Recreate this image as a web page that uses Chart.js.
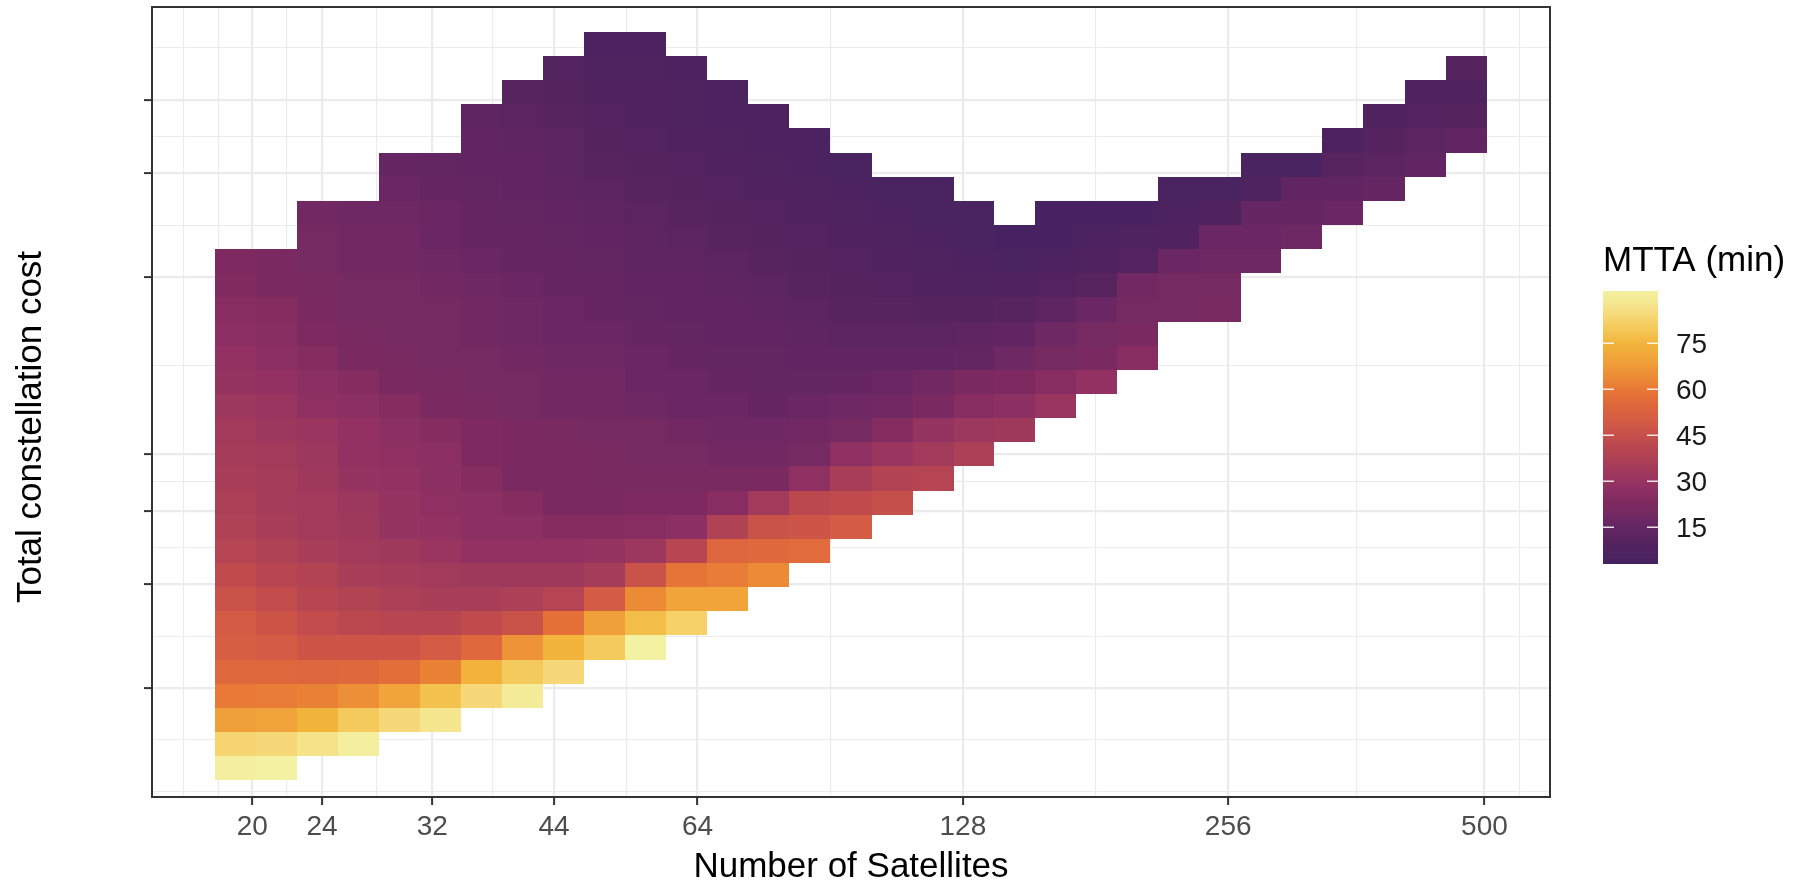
<!DOCTYPE html>
<html>
<head>
<meta charset="utf-8">
<script src="https://cdn.jsdelivr.net/npm/chart.js@4.4.1/dist/chart.umd.min.js"></script>
<style>
  html, body { margin: 0; padding: 0; background: #ffffff; }
  #wrap { width: 1807px; height: 882px; position: relative; }
</style>
</head>
<body>
<div id="wrap"><canvas id="chart"></canvas></div>
<script>
// Constellation sizes (column centres, log-spaced) and cost levels (rows, bottom = 1)
const satellites = [19.16, 21.32, 23.74, 26.42, 29.41, 32.73, 36.44, 40.56, 45.14, 50.25,
  55.93, 62.26, 69.29, 77.13, 85.85, 95.56, 106.4, 118.4, 131.8, 146.6,
  163.2, 181.7, 202.2, 225.1, 250.6, 278.9, 310.4, 345.5, 384.6, 428.1, 476.5];
const costLevels = [1, 2, 3, 4, 5, 6, 7, 8, 9, 10, 11, 12, 13, 14, 15, 16,
  17, 18, 19, 20, 21, 22, 23, 24, 25, 26, 27, 28, 29, 30, 31];

// Axis breaks
const satelliteTicks = [20, 24, 32, 44, 64, 128, 256, 500];
const satelliteMinorTicks = [16.7, 18.3, 21.9, 27.7, 37.5, 53.1, 90.5, 181, 357.8, 547.7];
const costTicks = [4.31, 8.64, 11.65, 14.01, 21.35, 25.65, 28.67];
const costMinorTicks = [0.03, 2.18, 6.45, 10.13, 12.86, 17.66, 23.46, 27.18, 30.83];
const mttaTicks = [15, 30, 45, 60, 75];

// Mean time to access (minutes); one row per cost level, top level (31) first.
const _ = null;
const mtta = [
  [_,_,_,_,_,_,_,_,_,6,   6,_,_,_,_,_,_,_,_,_,   _,_,_,_,_,_,_,_,_,_,_],
  [_,_,_,_,_,_,_,_,9,7,   7,6,_,_,_,_,_,_,_,_,   _,_,_,_,_,_,_,_,_,_,10],
  [_,_,_,_,_,_,_,11,10,8, 8,7,6,_,_,_,_,_,_,_,   _,_,_,_,_,_,_,_,_,8,8],
  [_,_,_,_,_,_,13,12,11,9, 8,7,6,6,_,_,_,_,_,_,  _,_,_,_,_,_,_,_,8,9,10],
  [_,_,_,_,_,_,14,13,12,10, 9,8,7,6,6,_,_,_,_,_, _,_,_,_,_,_,_,6,10,12,14],
  [_,_,_,_,16,15,14,14,12,11, 10,9,8,7,6,5,_,_,_,_, _,_,_,_,_,5,5,11,12,14,_],
  [_,_,_,_,17,16,15,14,13,12, 11,10,9,8,7,6,5,5,_,_, _,_,_,5,5,7,14,14,16,_,_],
  [_,_,19,18,18,17,16,15,14,13, 12,11,10,9,8,7,6,5,5,_, 4,4,4,6,8,16,16,17,_,_,_],
  [_,_,20,19,19,17,16,16,15,14, 13,12,11,10,9,8,7,6,5,3, 4,6,7,8,17,17,18,_,_,_,_],
  [23,22,20,19,19,18,17,16,16,15, 13,13,12,11,10,9,8,7,6,5, 6,8,9,17,18,18,_,_,_,_,_],
  [24,22,21,20,20,19,18,17,16,16, 14,14,13,12,11,10,9,8,7,8, 9,11,19,20,20,_,_,_,_,_,_],
  [26,25,22,20,20,20,19,18,17,16, 15,14,14,13,12,11,11,10,10,11, 13,17,20,20,21,_,_,_,_,_,_],
  [27,26,23,21,20,20,19,18,17,17, 16,15,14,14,13,12,12,12,13,14, 18,20,22,_,_,_,_,_,_,_,_],
  [29,27,25,22,21,20,20,19,18,18, 17,16,15,15,14,14,14,14,15,18, 20,22,26,_,_,_,_,_,_,_,_],
  [30,29,27,25,22,21,20,20,19,19, 17,17,16,15,15,16,17,19,22,23, 26,29,_,_,_,_,_,_,_,_,_],
  [32,31,28,27,25,22,21,20,19,19, 18,17,17,16,17,18,19,22,26,27, 31,_,_,_,_,_,_,_,_,_,_],
  [34,32,31,29,27,25,23,22,21,20, 20,19,18,18,19,20,25,30,32,33, _,_,_,_,_,_,_,_,_,_,_],
  [35,34,32,29,28,27,23,22,22,21, 20,20,19,19,20,28,31,34,37,_, _,_,_,_,_,_,_,_,_,_,_],
  [36,35,33,30,29,27,25,22,22,21, 21,21,21,22,28,36,39,40,_,_, _,_,_,_,_,_,_,_,_,_,_],
  [37,35,34,32,30,28,27,25,22,22, 23,23,26,34,42,43,45,_,_,_, _,_,_,_,_,_,_,_,_,_,_],
  [38,36,34,33,30,29,27,27,25,25, 26,27,38,46,47,50,_,_,_,_, _,_,_,_,_,_,_,_,_,_,_],
  [40,38,36,34,33,31,29,29,29,30, 32,41,54,55,56,_,_,_,_,_, _,_,_,_,_,_,_,_,_,_,_],
  [43,41,39,36,35,34,33,33,33,35, 46,59,61,64,_,_,_,_,_,_, _,_,_,_,_,_,_,_,_,_,_],
  [46,44,41,39,37,36,36,37,40,50, 64,70,70,_,_,_,_,_,_,_, _,_,_,_,_,_,_,_,_,_,_],
  [50,47,44,42,41,41,43,46,58,69, 77,82,_,_,_,_,_,_,_,_, _,_,_,_,_,_,_,_,_,_,_],
  [51,50,47,47,47,50,55,66,75,80, 92,_,_,_,_,_,_,_,_,_, _,_,_,_,_,_,_,_,_,_,_],
  [55,55,54,55,57,62,74,80,84,_,  _,_,_,_,_,_,_,_,_,_, _,_,_,_,_,_,_,_,_,_,_],
  [60,61,62,65,70,78,84,90,_,_,   _,_,_,_,_,_,_,_,_,_, _,_,_,_,_,_,_,_,_,_,_],
  [69,70,75,80,84,88,_,_,_,_,     _,_,_,_,_,_,_,_,_,_, _,_,_,_,_,_,_,_,_,_,_],
  [83,84,87,91,_,_,_,_,_,_,       _,_,_,_,_,_,_,_,_,_, _,_,_,_,_,_,_,_,_,_,_],
  [91,92,_,_,_,_,_,_,_,_,         _,_,_,_,_,_,_,_,_,_, _,_,_,_,_,_,_,_,_,_,_]
];

// Colour ramp (dark purple -> magenta -> orange -> pale yellow)
const colorStops = [
  [3, '#472260'], [5, '#4a2361'], [8, '#50235f'], [11, '#57245f'], [13, '#5e2562'],
  [16, '#662664'], [18, '#6e2863'], [20, '#762a62'], [23, '#7e2a60'], [26, '#882d62'],
  [29, '#933262'], [32, '#9c375e'], [35, '#a53c59'], [38, '#af4255'], [41, '#b84650'],
  [44, '#c24d4c'], [47, '#cc5548'], [51, '#d65e42'], [55, '#df683c'], [59, '#e77437'],
  [64, '#ec8b36'], [69, '#f0a038'], [75, '#f2b53c'], [80, '#f5ca5c'], [84, '#f6d878'],
  [89, '#f5ea95'], [92, '#f3f1a2']
];
function hexRgb(h) { return [1, 3, 5].map(i => parseInt(h.slice(i, i + 2), 16)); }
function fillFor(v) {
  if (v <= colorStops[0][0]) return colorStops[0][1];
  for (let i = 1; i < colorStops.length; i++) {
    const [v1, c1] = colorStops[i];
    if (v <= v1) {
      const [v0, c0] = colorStops[i - 1];
      const t = (v - v0) / (v1 - v0);
      const a = hexRgb(c0), b = hexRgb(c1);
      return 'rgb(' + a.map((x, k) => Math.round(x + (b[k] - x) * t)).join(',') + ')';
    }
  }
  return colorStops[colorStops.length - 1][1];
}

// Tile records for the dataset
const tiles = [];
mtta.forEach((row, i) => {
  const level = costLevels[costLevels.length - 1 - i];
  row.forEach((v, c) => {
    if (v !== null) tiles.push({ x: satellites[c], y: level, v: v, col: c });
  });
});
const allValues = tiles.map(t => t.v);
const vMin = Math.min(...allValues), vMax = Math.max(...allValues);

function colEdges(c) {
  const n = satellites.length;
  const lo = c > 0 ? Math.sqrt(satellites[c - 1] * satellites[c])
                   : satellites[0] * Math.sqrt(satellites[0] / satellites[1]);
  const hi = c < n - 1 ? Math.sqrt(satellites[c] * satellites[c + 1])
                       : satellites[n - 1] * Math.sqrt(satellites[n - 1] / satellites[n - 2]);
  return [lo, hi];
}

const FONT = '"Liberation Sans", Arial, Helvetica, sans-serif';

// Draws each tile through the chart scales
const tilePlugin = {
  id: 'tiles',
  beforeDatasetsDraw(chart) {
    const { ctx, chartArea: a, scales: { x, y } } = chart;
    ctx.save();
    ctx.beginPath();
    ctx.rect(a.left, a.top, a.right - a.left, a.bottom - a.top);
    ctx.clip();
    for (const t of chart.data.datasets[0].data) {
      const [lo, hi] = colEdges(t.col);
      const x0 = Math.round(x.getPixelForValue(lo));
      const x1 = Math.round(x.getPixelForValue(hi));
      const y0 = Math.round(y.getPixelForValue(t.y + 0.5));
      const y1 = Math.round(y.getPixelForValue(t.y - 0.5));
      ctx.fillStyle = fillFor(t.v);
      ctx.fillRect(x0, y0, x1 - x0, y1 - y0);
    }
    ctx.restore();
  }
};

// Panel border, axis titles and the colour-bar legend
const decorPlugin = {
  id: 'decor',
  afterDraw(chart) {
    const { ctx, chartArea: a } = chart;
    ctx.save();
    ctx.strokeStyle = '#333333';
    ctx.lineWidth = 2;
    ctx.strokeRect(a.left, a.top, a.right - a.left, a.bottom - a.top);

    ctx.fillStyle = '#000000';
    ctx.font = '35px ' + FONT;
    ctx.textAlign = 'center';
    ctx.textBaseline = 'alphabetic';
    ctx.fillText('Number of Satellites', (a.left + a.right) / 2, 877);
    ctx.save();
    ctx.translate(41, 427);
    ctx.rotate(-Math.PI / 2);
    ctx.fillText('Total constellation cost', 0, 0);
    ctx.restore();

    // legend
    const bx = 1603, bw = 55, bTop = 291, bBot = 564;
    ctx.textAlign = 'left';
    ctx.fillText('MTTA (min)', bx, 271);
    for (let py = bTop; py < bBot; py++) {
      const v = vMax - ((py + 0.5 - bTop) / (bBot - bTop)) * (vMax - vMin);
      ctx.fillStyle = fillFor(v);
      ctx.fillRect(bx, py, bw, 1);
    }
    ctx.font = '28px ' + FONT;
    ctx.strokeStyle = 'rgba(255,255,255,0.85)';
    ctx.lineWidth = 1.5;
    for (const t of mttaTicks) {
      const ty = bBot - ((t - vMin) / (vMax - vMin)) * (bBot - bTop);
      ctx.beginPath();
      ctx.moveTo(bx, ty); ctx.lineTo(bx + 11, ty);
      ctx.moveTo(bx + bw - 11, ty); ctx.lineTo(bx + bw, ty);
      ctx.stroke();
      ctx.fillStyle = '#1a1a1a';
      ctx.fillText(String(t), 1676, ty + 10);
    }
    ctx.restore();
  }
};

const satMajor = new Set(satelliteTicks);
const costMajor = new Set(costTicks);

new Chart(document.getElementById('chart'), {
  type: 'scatter',
  data: {
    datasets: [{
      data: tiles,
      pointRadius: 0,
      pointHoverRadius: 0,
      showLine: false
    }]
  },
  options: {
    responsive: true,
    maintainAspectRatio: false,
    devicePixelRatio: 1,
    animation: false,
    events: [],
    layout: { padding: { left: 0, top: 7, right: 257, bottom: 0 } },
    plugins: { legend: { display: false }, tooltip: { enabled: false } },
    scales: {
      x: {
        type: 'logarithmic',
        position: 'bottom',
        min: 15.39,
        max: 593.4,
        afterBuildTicks: s => {
          s.ticks = [...satelliteMinorTicks, ...satelliteTicks]
            .sort((p, q) => p - q).map(v => ({ value: v }));
        },
        afterFit: s => { s.height = 85; },
        border: { display: false },
        grid: {
          color: '#ebebeb',
          lineWidth: c => (satMajor.has(c.tick.value) ? 2.2 : 1.1),
          drawTicks: true,
          tickLength: 8,
          tickWidth: 2,
          tickColor: c => (satMajor.has(c.tick.value) ? '#333333' : 'rgba(0,0,0,0)')
        },
        ticks: {
          autoSkip: false,
          maxRotation: 0,
          padding: 5,
          color: '#4d4d4d',
          font: { family: FONT, size: 28 },
          callback: v => (satMajor.has(v) ? String(v) : '')
        }
      },
      y: {
        type: 'linear',
        min: -0.19,
        max: 32.53,
        afterBuildTicks: s => {
          s.ticks = [...costMinorTicks, ...costTicks]
            .sort((p, q) => p - q).map(v => ({ value: v }));
        },
        afterFit: s => { s.width = 152; },
        border: { display: false },
        grid: {
          color: '#ebebeb',
          lineWidth: c => (costMajor.has(c.tick.value) ? 2.2 : 1.1),
          drawTicks: true,
          tickLength: 8,
          tickWidth: 2,
          tickColor: c => (costMajor.has(c.tick.value) ? '#333333' : 'rgba(0,0,0,0)')
        },
        ticks: { display: false }
      }
    }
  },
  plugins: [tilePlugin, decorPlugin]
});
</script>
</body>
</html>
